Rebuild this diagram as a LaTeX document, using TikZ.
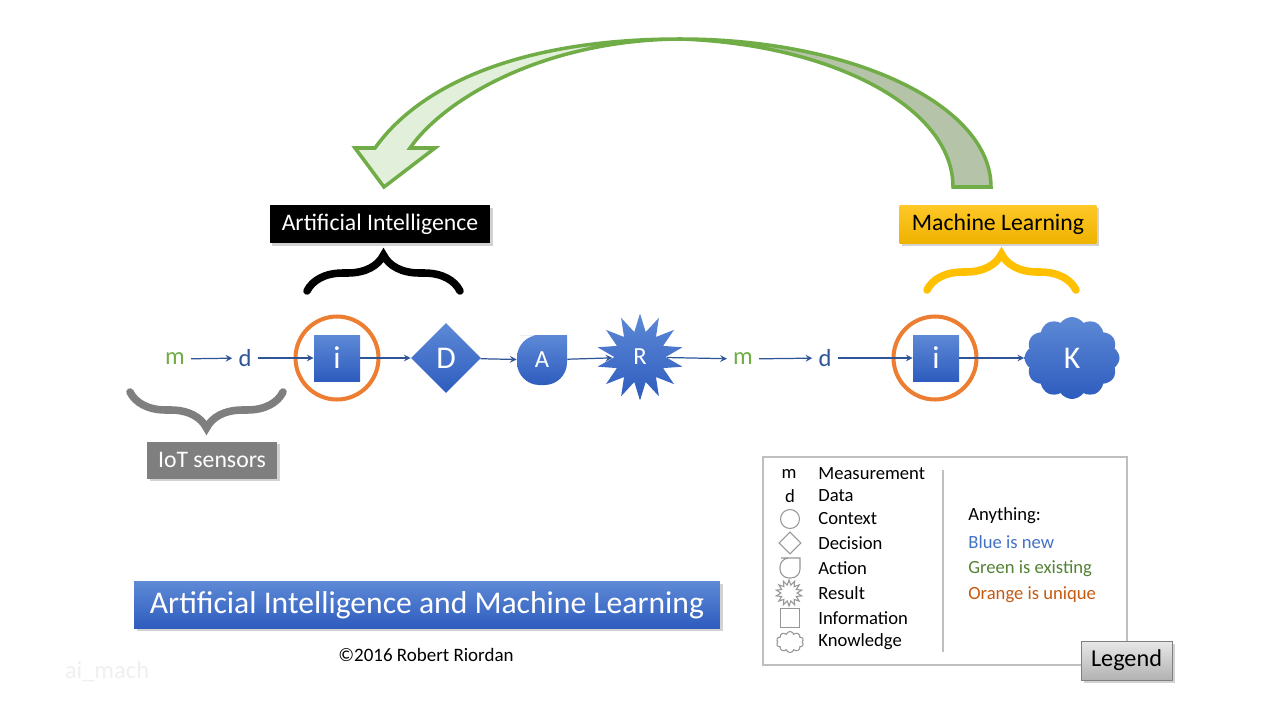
\documentclass[tikz,border=0pt]{standalone}
\usepackage{fontspec}
\setmainfont{Carlito}
\usetikzlibrary{shapes.geometric,shapes.symbols,decorations.pathreplacing,shadows}
\definecolor{flowblue}{RGB}{47,85,151}
\definecolor{mgreen}{RGB}{112,173,71}
\definecolor{ctxorange}{RGB}{237,125,49}
\definecolor{shapetop}{RGB}{93,137,214}
\definecolor{shapebot}{RGB}{46,92,190}
\definecolor{arrowlight}{RGB}{226,239,218}
\definecolor{arrowdark}{RGB}{181,196,168}
\definecolor{mlyellow}{RGB}{255,192,0}
\definecolor{mltop}{RGB}{255,200,40}
\definecolor{mlbot}{RGB}{238,178,0}
\definecolor{legline}{RGB}{191,191,191}
\definecolor{legicon}{RGB}{150,150,150}
\definecolor{iotgray}{RGB}{127,127,127}
\definecolor{newblue}{RGB}{68,114,196}
\definecolor{oldgreen}{RGB}{84,130,53}
\definecolor{uniqorange}{RGB}{197,90,17}
\tikzset{
  bluefill/.style={top color=shapetop,bottom color=shapebot,text=white},
  letter/.style={font=\fontsize{14}{16}\selectfont},
  bigletter/.style={font=\fontsize{18}{20}\selectfont,text=white},
  smallletter/.style={font=\fontsize{14}{16}\selectfont,text=white},
  flow/.style={->,draw=flowblue,line width=.7pt},
  context/.style={circle,draw=ctxorange,line width=2.3pt,minimum size=1.66cm},
  infobox/.style={rectangle,bluefill,bigletter,minimum size=.92cm,inner sep=0pt},
  decision/.style={diamond,bluefill,bigletter,minimum width=1.4cm,minimum height=1.4cm,inner sep=0pt},
  result/.style={star,star points=14,star point ratio=1.7,bluefill,smallletter,minimum size=1.74cm,inner sep=0pt},
  knowledge/.style={cloud,cloud puffs=12,cloud puff arc=110,bluefill,bigletter,minimum width=1.9cm,minimum height=1.64cm,inner sep=0pt},
  bracebar/.style={decorate,decoration={brace,amplitude=.72cm},line width=4.3pt,line cap=round},
  bigarrow/.style={draw=mgreen,line width=2pt},
  tag/.style={font=\fontsize{13.5}{15}\selectfont,minimum height=.76cm,inner sep=0pt,drop shadow={opacity=.35,shadow xshift=1.5pt,shadow yshift=-1.5pt}},
  titlebox/.style={bluefill,font=\fontsize{18}{20}\selectfont,minimum width=11.72cm,minimum height=.94cm,inner sep=0pt,drop shadow={opacity=.35,shadow xshift=1.5pt,shadow yshift=-1.5pt}},
  legtxt/.style={font=\fontsize{10.6}{12}\selectfont,inner sep=0pt},
  legsym/.style={draw=legicon,line width=.6pt,inner sep=0pt},
}
\begin{document}
\begin{tikzpicture}[>=stealth,x=0.02cm,y=-0.02cm]
\fill[white] (0,0) rectangle (1280,720);
\useasboundingbox (0,0) rectangle (1280,720);
% feedback arrow
\filldraw[bigarrow,fill=arrowdark] (991,187) .. controls (991,105) and (852,39) .. (680,39) .. controls (831,44) and (953,107) .. (953,187) -- cycle;
\filldraw[bigarrow,fill=arrowlight] (680,39) .. controls (520,39) and (420,85) .. (375,148) -- (355,148) -- (384,187) -- (435,148) -- (410,148) .. controls (445,98) and (545,40) .. (680,39) -- cycle;
% flow
\node[letter,text=mgreen] (m1) at (175,359) {m};
\node[letter,text=flowblue] (d1) at (245,358) {d};
\node[context] (c1) at (337,358) {};
\node[infobox] (i1) at (337,358) {i};
\node[decision] (D) at (446,358) {D};
\shade[bluefill] (542,335) -- (567,335) -- (567,360) [rounded corners=.45cm] -- (567,385) -- (517,385) -- (517,335) -- cycle;
\node[smallletter,minimum size=1cm,inner sep=0pt] (A) at (542,360) {A};
\node[result] (R) at (640,357) {R};
\node[letter,text=mgreen] (m2) at (743,359) {m};
\node[letter,text=flowblue] (d2) at (825,358) {d};
\node[context] (c2) at (935,358) {};
\node[infobox] (i2) at (936,358) {i};
\node[knowledge] (K) at (1072,358) {K};
\foreach \a/\b in {m1/d1,d1/i1,i1/D,D/A,A/R,R/m2,m2/d2,d2/i2,i2/K} \draw[flow] (\a)--(\b);
% braces and tags
\draw[bracebar,draw=black] (307,291) -- (460,291);
\draw[bracebar,draw=mlyellow] (927,290) -- (1076,290);
\draw[bracebar,draw=iotgray] (283,392) -- (130,392);
\node[tag,fill=black,text=white,minimum width=4.42cm] (ai) at (380,224) {Artificial Intelligence};
\node[tag,top color=mltop,bottom color=mlbot,text=black,minimum width=3.94cm] (ml) at (998,224) {Machine Learning};
\node[tag,fill=iotgray,text=white,minimum width=2.6cm,minimum height=.74cm] (iot) at (212,460) {IoT sensors};
% title
\node[titlebox] (title) at (427,605) {Artificial Intelligence and Machine Learning};
\node[font=\fontsize{10.8}{12}\selectfont] (copy) at (426,655) {\textcopyright2016 Robert Riordan};
\node[font=\fontsize{14}{16}\selectfont,text={rgb,255:red,240;green,240;blue,240}] (tag) at (107,672) {ai\_mach};
% legend
\draw[legline,line width=.6pt] (763,457) rectangle (1127,665);
\draw[legline,line width=1.2pt] (943,470) -- (943,652);
\node[legtxt] (lgm) at (789,474) {m};
\node[legtxt] (lgd) at (790,496) {d};
\node[legsym,circle,minimum size=.38cm] (lgc) at (790,519) {};
\node[legsym,diamond,minimum size=.44cm] (lgdi) at (790,543) {};
\draw[legsym] (790,558) -- (800,558) -- (800,568) [rounded corners=.18cm] -- (800,578) -- (780,578) -- (780,558) -- cycle;
\node[legsym,star,star points=14,star point ratio=1.6,minimum size=.52cm] (lgs) at (789,593) {};
\node[legsym,rectangle,minimum size=.38cm] (lgsq) at (790,618) {};
\node[legsym,cloud,cloud puffs=10,minimum width=.54cm,minimum height=.42cm] (lgcl) at (790,642) {};
\foreach \n/\y/\t in {meas/474/Measurement,data/496/Data,ctx/519/Context,dec/543/Decision,act/568/Action,res/593/Result,inf/618/Information,know/642/Knowledge}
  \node[legtxt,anchor=west] (lg\n) at (818,\y) {\t};
\node[legtxt,anchor=west] (any) at (968,516) {Anything:};
\node[legtxt,anchor=west,text=newblue] (lgblue) at (968,542) {Blue is new};
\node[legtxt,anchor=west,text=oldgreen] (lggreen) at (968,569) {Green is existing};
\node[legtxt,anchor=west,text=uniqorange] (lgorange) at (968,595) {Orange is unique};
\node[tag,top color={rgb,255:red,232;green,232;blue,232},bottom color={rgb,255:red,178;green,178;blue,178},draw=iotgray,line width=.5pt,font=\fontsize{13.8}{15}\selectfont,minimum width=1.82cm,minimum height=.78cm] (legend) at (1126.5,660.5) {Legend};
\end{tikzpicture}
\end{document}
